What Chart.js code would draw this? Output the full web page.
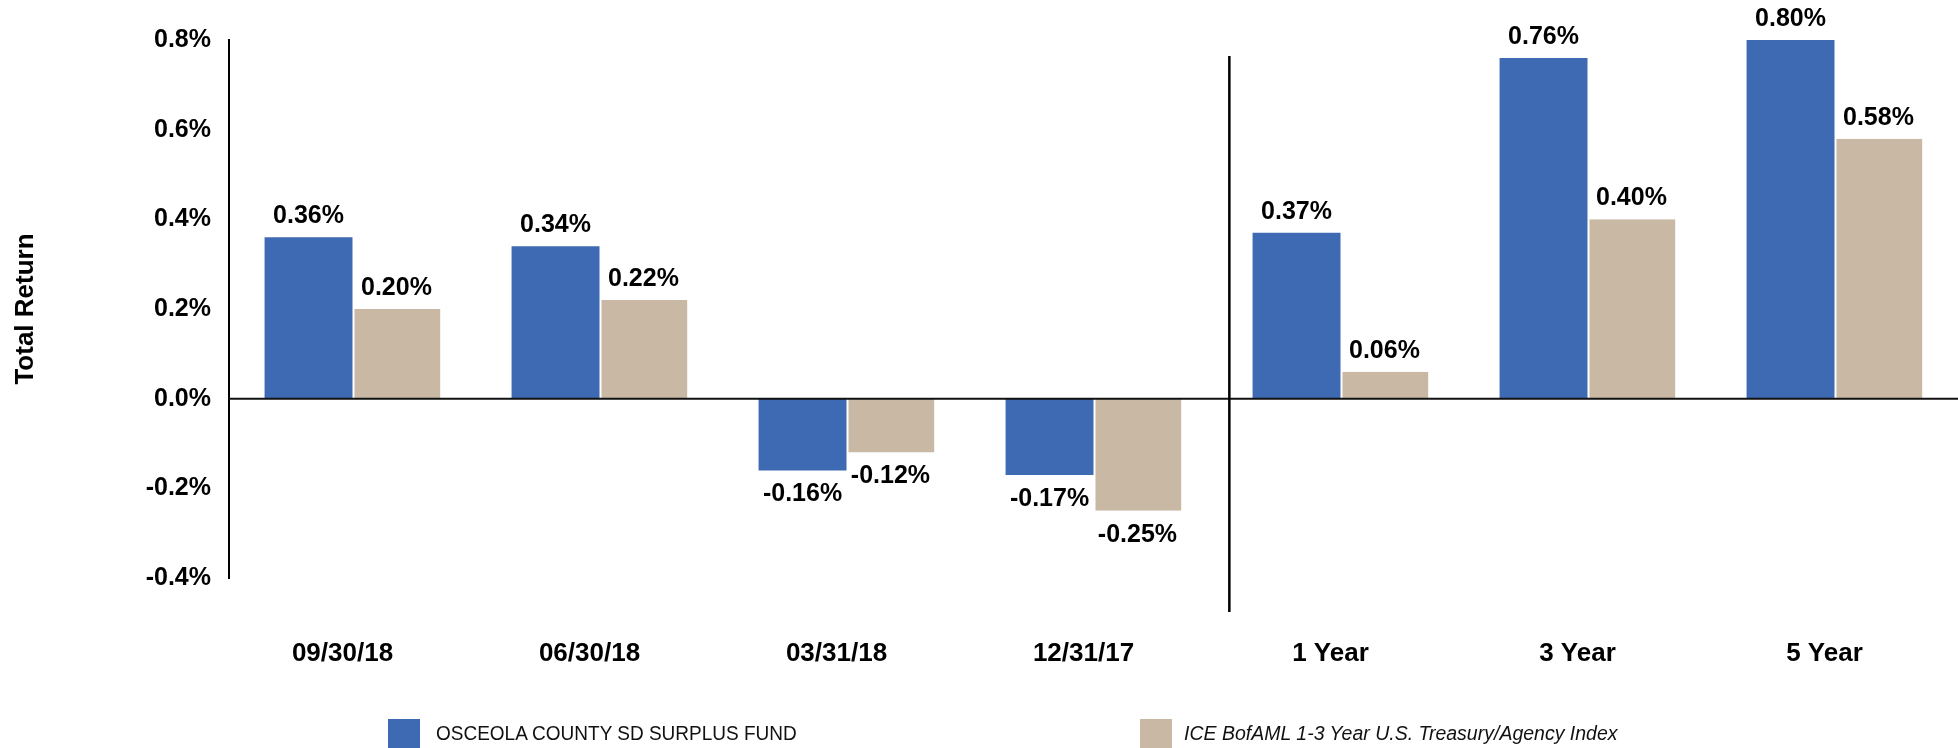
<!DOCTYPE html>
<html>
<head>
<meta charset="utf-8">
<script src="https://cdn.jsdelivr.net/npm/chart.js@4.4.1/dist/chart.umd.min.js"></script>
<style>
    html, body { margin: 0; padding: 0; background: #fff; }
    #wrap { position: relative; width: 1958px; height: 748px; }
    #legend { position: absolute; left: 0; top: 719px; width: 1958px; height: 29px; font-family: "Liberation Sans", Arial, sans-serif; font-size: 20px; color: #111; }
    .item { position: absolute; top: 0; height: 29px; }
    .box { position: absolute; left: 0; top: 0; width: 32px; height: 30px; }
    .label { position: absolute; left: 48px; top: 3px; white-space: nowrap; transform-origin: left center; }
</style>
</head>
<body>
<div id="wrap">
    <canvas id="chart" width="1958" height="748"></canvas>
    <div id="legend">
        <div class="item" style="left:388px">
            <div class="box" style="background:#3E6AB3"></div>
            <div class="label" style="transform:scaleX(0.95)">OSCEOLA COUNTY SD SURPLUS FUND</div>
        </div>
        <div class="item" style="left:1140px">
            <div class="box" style="background:#C8B8A4"></div>
            <div class="label" style="font-style:italic;left:44px;transform:scaleX(0.975)">ICE BofAML 1-3 Year U.S. Treasury/Agency Index</div>
        </div>
    </div>
</div>
<script>
const categories = ['09/30/18', '06/30/18', '03/31/18', '12/31/17', '1 Year', '3 Year', '5 Year'];
const fundReturns = [0.36, 0.34, -0.16, -0.17, 0.37, 0.76, 0.80];
const indexReturns = [0.20, 0.22, -0.12, -0.25, 0.06, 0.40, 0.58];
const yTicks = [-0.4, -0.2, 0.0, 0.2, 0.4, 0.6, 0.8];

const FONT = '"Liberation Sans", Arial, sans-serif';

// линия нуля, разделитель периодов и подписи значений
const extrasPlugin = {
    id: 'extras',
    afterDatasetsDraw(chart) {
        const { ctx, chartArea, scales } = chart;
        const zeroY = scales.y.getPixelForValue(0);
        ctx.save();
        ctx.strokeStyle = '#111';
        ctx.lineWidth = 2;
        ctx.beginPath();
        ctx.moveTo(chartArea.left, zeroY);
        ctx.lineTo(chartArea.right, zeroY);
        ctx.stroke();

        // разделитель между кварталами и годовыми периодами
        const divX = scales.x.getPixelForValue(3.55);
        ctx.lineWidth = 2.5;
        ctx.strokeStyle = '#000';
        ctx.beginPath();
        ctx.moveTo(divX, chartArea.top + 16);
        ctx.lineTo(divX, chartArea.bottom + 34);
        ctx.stroke();

        ctx.fillStyle = '#000';
        ctx.font = 'bold 25px ' + FONT;
        ctx.textAlign = 'center';
        ctx.textBaseline = 'alphabetic';
        chart.data.datasets.forEach((ds, i) => {
            chart.getDatasetMeta(i).data.forEach((bar, j) => {
                const v = ds.data[j];
                const txt = v.toFixed(2) + '%';
                if (v >= 0) {
                    ctx.fillText(txt, bar.x, bar.y - 14);
                } else {
                    ctx.fillText(txt, bar.x, bar.y + 31);
                }
            });
        });
        ctx.restore();
    }
};

new Chart(document.getElementById('chart').getContext('2d'), {
    type: 'bar',
    data: {
        labels: categories,
        datasets: [{
            label: 'OSCEOLA COUNTY SD SURPLUS FUND',
            data: fundReturns,
            backgroundColor: '#3E6AB3',
            borderWidth: 0
        }, {
            label: 'ICE BofAML 1-3 Year U.S. Treasury/Agency Index',
            data: indexReturns,
            backgroundColor: '#C8B8A4',
            borderColor: '#fff',
            borderWidth: { left: 2, right: 0, top: 0, bottom: 0 },
            borderSkipped: false
        }]
    },
    options: {
        responsive: false,
        animation: false,
        categoryPercentage: 0.712,
        barPercentage: 1.0,
        layout: { padding: { top: 40, right: 0, bottom: 0, left: 0 } },
        plugins: {
            legend: { display: false },
            tooltip: { enabled: false }
        },
        scales: {
            x: {
                grid: { display: false },
                border: { display: false },
                ticks: {
                    color: '#000',
                    font: { family: FONT, size: 26, weight: 'bold' },
                    padding: 52,
                    labelOffset: -10,
                    maxRotation: 0
                },
                afterFit: s => { s.height = 170; }
            },
            y: {
                min: -0.4,
                max: 0.8,
                grid: { display: false, drawTicks: false },
                border: { display: true, color: '#000', width: 2 },
                afterBuildTicks: s => { s.ticks = yTicks.map(v => ({ value: v })); },
                ticks: {
                    color: '#000',
                    font: { family: FONT, size: 25, weight: 'bold' },
                    padding: 18,
                    callback: v => v.toFixed(1) + '%'
                },
                title: {
                    display: true,
                    text: 'Total Return',
                    color: '#000',
                    font: { family: FONT, size: 26, weight: 'bold' },
                    padding: { top: 10, bottom: 0 }
                },
                afterFit: s => { s.width = 229; }
            }
        }
    },
    plugins: [extrasPlugin]
});
</script>
</body>
</html>
